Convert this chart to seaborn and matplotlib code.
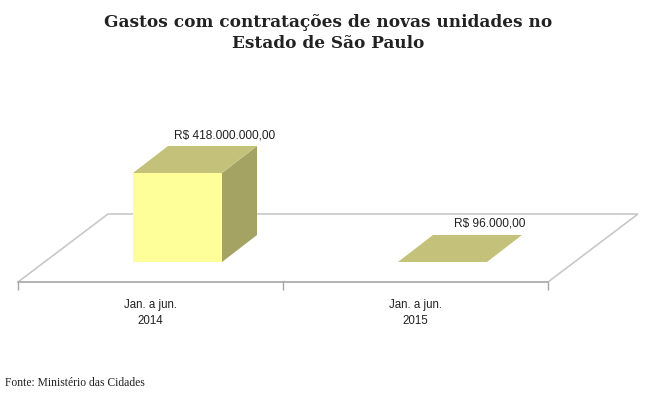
import numpy as np
import pandas as pd
import matplotlib
matplotlib.use("Agg")
import matplotlib.pyplot as plt
from matplotlib.patches import Polygon
import seaborn as sns

'data'
periodos = ["Jan. a jun.\n2014", "Jan. a jun.\n2015"]
gastos = [418000000.00, 96000.00]
rotulos = ["R$ 418.000.000,00", "R$ 96.000,00"]

titulo = "Gastos com contratações de novas unidades no\nEstado de São Paulo"
fonte = "Fonte: Ministério das Cidades"

'colors'
cor_frente = "#FFFF99"
cor_topo = "#C4C17A"
cor_lado = "#A4A364"
cor_piso = "#C8C8C8"

sns.set_style("white")
plt.rcParams["font.family"] = ["Liberation Sans", "DejaVu Sans"]

fig = plt.figure(figsize=(6.56, 3.94), dpi=100)
W, H = 656, 394
# axes = front edge of the floor, pixels 18..548, baseline at y=282
ax = fig.add_axes([18 / W, (H - 282) / H, 530 / W, 162 / H])

df = pd.DataFrame({"periodo": periodos, "gasto": gastos})
sns.barplot(data=df, x="periodo", y="gasto", color=cor_frente,
            width=0.336, saturation=1, edgecolor="none", ax=ax, zorder=3)
ax.set_xlim(-0.5, 1.5)
ax.set_ylim(0, 418e6 * 162 / 89)

# pixel -> data unit conversion
p0 = ax.transData.transform((0, 0))
p1 = ax.transData.transform((1, 1e6))
ppx = p1[0] - p0[0]
ppy = (p1[1] - p0[1]) / 1e6


def px(dx, dy):
    return dx / ppx, dy / ppy


# floor (parallelogram)
fdx, fdy = px(90, 68)
piso = Polygon([(-0.5, 0), (-0.5 + fdx, fdy), (1.5 + fdx, fdy), (1.5, 0)],
               closed=False, facecolor="white", edgecolor=cor_piso,
               lw=1.2, zorder=1, clip_on=False)
ax.add_patch(piso)

# bars pushed back into the floor, with top and side faces
sx, sy = px(27, 20)
bx, by = px(35, 27)
for patch, rot in zip(ax.patches[:len(gastos)], rotulos):
    patch.set_x(patch.get_x() + sx)
    patch.set_y(patch.get_y() + sy)
    patch.set_clip_on(False)
    x0 = patch.get_x()
    x1 = x0 + patch.get_width()
    y0 = patch.get_y()
    y1 = y0 + patch.get_height()
    topo = Polygon([(x0, y1), (x0 + bx, y1 + by), (x1 + bx, y1 + by), (x1, y1)],
                   facecolor=cor_topo, edgecolor="none", zorder=4, clip_on=False)
    lado = Polygon([(x1, y0), (x1 + bx, y0 + by), (x1 + bx, y1 + by), (x1, y1)],
                   facecolor=cor_lado, edgecolor="none", zorder=4, clip_on=False)
    if patch.get_height() > 0.01 * ax.get_ylim()[1]:
        ax.add_patch(lado)
    ax.add_patch(topo)
    ax.text((x0 + x1) / 2 + bx + px(12, 0)[0], y1 + by + px(0, 5)[1], rot,
            ha="center", va="bottom", fontsize=8.6, color="#222222", zorder=5)

# axis: front edge, ticks at category boundaries, labels at centers
for s in ["top", "right", "left"]:
    ax.spines[s].set_visible(False)
ax.spines["bottom"].set_color("#A6A6A6")
ax.spines["bottom"].set_linewidth(1.2)
ax.set_yticks([])
ax.set_xticks([-0.5, 0.5, 1.5])
ax.set_xticklabels([])
ax.set_xticks([0, 1], minor=True)
ax.set_xticklabels(periodos, minor=True, fontsize=8.3, color="#222222",
                   linespacing=1.45)
ax.tick_params(axis="x", which="major", length=6, color="#A6A6A6",
               width=1, direction="out", bottom=True)
ax.tick_params(axis="x", which="minor", length=0, pad=12)
ax.set_xlabel("")
ax.set_ylabel("")

fig.text(0.5, 1 - 33 / H, titulo, ha="center", va="center",
         family=["DejaVu Serif"], fontweight="bold",
         fontsize=12.2, color="#222222", linespacing=1.3)
fig.text(5 / W, 1 - 383 / H, fonte, ha="left", va="center",
         family=["Liberation Serif", "DejaVu Serif"], fontsize=8.4,
         color="#222222")

fig.savefig("out.png", dpi=100)
